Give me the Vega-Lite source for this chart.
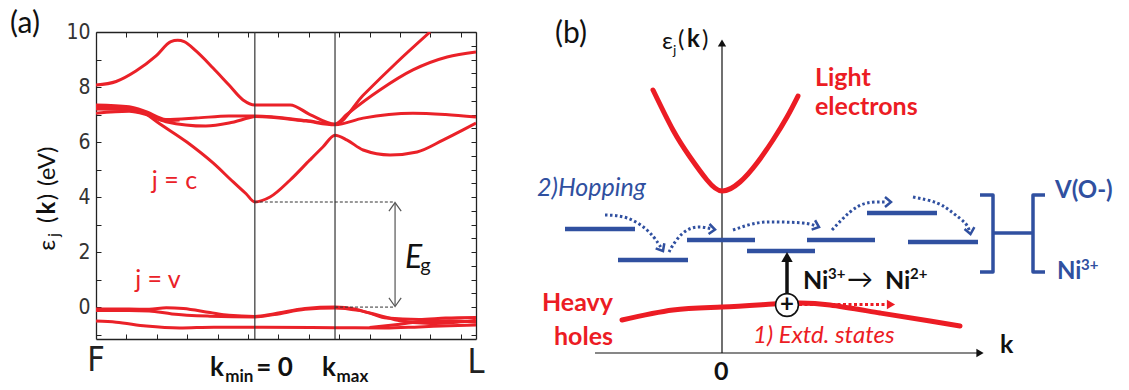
{
  "$schema": "https://vega.github.io/schema/vega-lite/v6.json",
  "background": "white",
  "padding": {"left": 10, "top": 9, "right": 5, "bottom": 5},
  "bounds": "flush",
  "spacing": 64,
  "config": {"view": {"stroke": null}, "font": "Lato"},
  "datasets": {
    "bandsA": [
      {"band": "c1", "k": 0, "e": 8.07}, {"band": "c1", "k": 0.053, "e": 8.2}, {"band": "c1", "k": 0.105, "e": 8.58}, {"band": "c1", "k": 0.158, "e": 9.13}, {"band": "c1", "k": 0.197, "e": 9.65}, {"band": "c1", "k": 0.215, "e": 9.7}, {"band": "c1", "k": 0.232, "e": 9.65}, {"band": "c1", "k": 0.263, "e": 9.31}, {"band": "c1", "k": 0.308, "e": 8.69}, {"band": "c1", "k": 0.35, "e": 8.07}, {"band": "c1", "k": 0.387, "e": 7.53}, {"band": "c1", "k": 0.418, "e": 7.35}, {"band": "c1", "k": 0.511, "e": 7.35}, {"band": "c1", "k": 0.563, "e": 7.0}, {"band": "c1", "k": 0.629, "e": 6.65}, {"band": "c1", "k": 0.703, "e": 7.7}, {"band": "c1", "k": 0.792, "e": 8.9}, {"band": "c1", "k": 0.879, "e": 10.0},
      {"band": "c2", "k": 0, "e": 7.35}, {"band": "c2", "k": 0.087, "e": 7.28}, {"band": "c2", "k": 0.132, "e": 7.1}, {"band": "c2", "k": 0.184, "e": 6.82}, {"band": "c2", "k": 0.263, "e": 6.87}, {"band": "c2", "k": 0.35, "e": 6.95}, {"band": "c2", "k": 0.418, "e": 6.95}, {"band": "c2", "k": 0.553, "e": 6.78}, {"band": "c2", "k": 0.629, "e": 6.65}, {"band": "c2", "k": 0.66, "e": 7.0}, {"band": "c2", "k": 0.747, "e": 7.89}, {"band": "c2", "k": 0.834, "e": 8.62}, {"band": "c2", "k": 0.924, "e": 9.09}, {"band": "c2", "k": 1.0, "e": 9.27},
      {"band": "c3", "k": 0, "e": 7.05}, {"band": "c3", "k": 0.087, "e": 7.12}, {"band": "c3", "k": 0.132, "e": 7.0}, {"band": "c3", "k": 0.184, "e": 6.74}, {"band": "c3", "k": 0.289, "e": 6.58}, {"band": "c3", "k": 0.35, "e": 6.69}, {"band": "c3", "k": 0.403, "e": 6.88}, {"band": "c3", "k": 0.418, "e": 6.93}, {"band": "c3", "k": 0.553, "e": 6.76}, {"band": "c3", "k": 0.629, "e": 6.63}, {"band": "c3", "k": 0.703, "e": 6.87}, {"band": "c3", "k": 0.834, "e": 7.05}, {"band": "c3", "k": 0.92, "e": 7.0}, {"band": "c3", "k": 1.0, "e": 6.91},
      {"band": "c4", "k": 0, "e": 7.2}, {"band": "c4", "k": 0.087, "e": 7.18}, {"band": "c4", "k": 0.132, "e": 7.03}, {"band": "c4", "k": 0.184, "e": 6.78}, {"band": "c4", "k": 0.22, "e": 6.8},
      {"band": "c5", "k": 0, "e": 7.28}, {"band": "c5", "k": 0.087, "e": 7.24}, {"band": "c5", "k": 0.132, "e": 7.02}, {"band": "c5", "k": 0.161, "e": 6.73}, {"band": "c5", "k": 0.239, "e": 6.0}, {"band": "c5", "k": 0.308, "e": 5.24}, {"band": "c5", "k": 0.361, "e": 4.55}, {"band": "c5", "k": 0.395, "e": 4.12}, {"band": "c5", "k": 0.418, "e": 3.82}, {"band": "c5", "k": 0.458, "e": 4.0}, {"band": "c5", "k": 0.511, "e": 4.62}, {"band": "c5", "k": 0.563, "e": 5.35}, {"band": "c5", "k": 0.597, "e": 5.82}, {"band": "c5", "k": 0.629, "e": 6.25}, {"band": "c5", "k": 0.661, "e": 6.07}, {"band": "c5", "k": 0.703, "e": 5.71}, {"band": "c5", "k": 0.774, "e": 5.53}, {"band": "c5", "k": 0.845, "e": 5.64}, {"band": "c5", "k": 0.913, "e": 6.07}, {"band": "c5", "k": 0.966, "e": 6.44}, {"band": "c5", "k": 1.0, "e": 6.69},
      {"band": "v1", "k": 0, "e": -0.07}, {"band": "v1", "k": 0.087, "e": -0.07}, {"band": "v1", "k": 0.14, "e": -0.08}, {"band": "v1", "k": 0.185, "e": -0.02}, {"band": "v1", "k": 0.23, "e": -0.05}, {"band": "v1", "k": 0.3, "e": -0.2}, {"band": "v1", "k": 0.35, "e": -0.3}, {"band": "v1", "k": 0.418, "e": -0.34}, {"band": "v1", "k": 0.47, "e": -0.24}, {"band": "v1", "k": 0.55, "e": -0.05}, {"band": "v1", "k": 0.629, "e": 0.0}, {"band": "v1", "k": 0.68, "e": -0.07}, {"band": "v1", "k": 0.72, "e": -0.22}, {"band": "v1", "k": 0.765, "e": -0.4}, {"band": "v1", "k": 0.85, "e": -0.45}, {"band": "v1", "k": 0.92, "e": -0.4}, {"band": "v1", "k": 1.0, "e": -0.38},
      {"band": "v2", "k": 0, "e": -0.12}, {"band": "v2", "k": 0.087, "e": -0.12}, {"band": "v2", "k": 0.14, "e": -0.14}, {"band": "v2", "k": 0.2, "e": -0.25}, {"band": "v2", "k": 0.3, "e": -0.33}, {"band": "v2", "k": 0.418, "e": -0.36}, {"band": "v2", "k": 0.47, "e": -0.27}, {"band": "v2", "k": 0.55, "e": -0.08}, {"band": "v2", "k": 0.629, "e": -0.03}, {"band": "v2", "k": 0.69, "e": -0.12}, {"band": "v2", "k": 0.75, "e": -0.32}, {"band": "v2", "k": 0.8, "e": -0.5}, {"band": "v2", "k": 0.88, "e": -0.6}, {"band": "v2", "k": 0.95, "e": -0.55}, {"band": "v2", "k": 1.0, "e": -0.48},
      {"band": "v3", "k": 0, "e": -0.51}, {"band": "v3", "k": 0.053, "e": -0.55}, {"band": "v3", "k": 0.132, "e": -0.69}, {"band": "v3", "k": 0.22, "e": -0.76}, {"band": "v3", "k": 0.31, "e": -0.73}, {"band": "v3", "k": 0.418, "e": -0.73}, {"band": "v3", "k": 0.629, "e": -0.75}, {"band": "v3", "k": 0.76, "e": -0.76}, {"band": "v3", "k": 0.85, "e": -0.72}, {"band": "v3", "k": 0.93, "e": -0.68}, {"band": "v3", "k": 1.0, "e": -0.65},
      {"band": "v4", "k": 0.72, "e": -0.74}, {"band": "v4", "k": 0.8, "e": -0.62}, {"band": "v4", "k": 0.86, "e": -0.52}, {"band": "v4", "k": 0.93, "e": -0.5}, {"band": "v4", "k": 1.0, "e": -0.55}
    ],
    "curvesB": [
      {"band": "light", "u": -1.38, "v": 5.26}, {"band": "light", "u": -0.98, "v": 4.46}, {"band": "light", "u": -0.64, "v": 3.92}, {"band": "light", "u": -0.3, "v": 3.46}, {"band": "light", "u": 0, "v": 3.24}, {"band": "light", "u": 0.36, "v": 3.42}, {"band": "light", "u": 0.7, "v": 3.8}, {"band": "light", "u": 1.02, "v": 4.26}, {"band": "light", "u": 1.3, "v": 4.72}, {"band": "light", "u": 1.52, "v": 5.14},
      {"band": "heavy", "u": -2.0, "v": 0.66}, {"band": "heavy", "u": -0.98, "v": 0.86}, {"band": "heavy", "u": 0, "v": 0.92}, {"band": "heavy", "u": 1.02, "v": 0.98}, {"band": "heavy", "u": 1.56, "v": 1.0}, {"band": "heavy", "u": 2.16, "v": 0.96}, {"band": "heavy", "u": 3.16, "v": 0.8}, {"band": "heavy", "u": 4.16, "v": 0.64}, {"band": "heavy", "u": 4.76, "v": 0.54}
    ],
    "levels": [
      {"u": -3.14, "u2": -1.74, "v": 2.48}, {"u": -2.08, "u2": -0.68, "v": 1.86}, {"u": -0.7, "u2": 0.66, "v": 2.26}, {"u": 0.5, "u2": 1.86, "v": 2.04}, {"u": 1.7, "u2": 3.06, "v": 2.26}, {"u": 2.9, "u2": 4.3, "v": 2.8}, {"u": 3.72, "u2": 5.12, "v": 2.22}
    ],
    "bracket": [
      {"grp": "r", "ord": 1, "u": 5.16, "v": 3.16}, {"grp": "r", "ord": 2, "u": 5.42, "v": 3.16}, {"grp": "r", "ord": 3, "u": 5.42, "v": 1.62}, {"grp": "r", "ord": 4, "u": 5.16, "v": 1.62},
      {"grp": "m", "ord": 1, "u": 5.42, "v": 2.4}, {"grp": "m", "ord": 2, "u": 6.22, "v": 2.4},
      {"grp": "l", "ord": 1, "u": 6.46, "v": 3.16}, {"grp": "l", "ord": 2, "u": 6.22, "v": 3.16}, {"grp": "l", "ord": 3, "u": 6.22, "v": 1.62}, {"grp": "l", "ord": 4, "u": 6.46, "v": 1.62}
    ],
    "hops": [
      {"hop": "a", "ord": 1, "u": -2.34, "v": 2.76}, {"hop": "a", "ord": 2, "u": -1.9, "v": 2.7}, {"hop": "a", "ord": 3, "u": -1.5, "v": 2.46}, {"hop": "a", "ord": 4, "u": -1.28, "v": 2.2}, {"hop": "a", "ord": 5, "u": -1.2, "v": 2.08},
      {"hop": "b", "ord": 1, "u": -1.06, "v": 2.02}, {"hop": "b", "ord": 2, "u": -0.98, "v": 2.16}, {"hop": "b", "ord": 3, "u": -0.78, "v": 2.4}, {"hop": "b", "ord": 4, "u": -0.5, "v": 2.52}, {"hop": "b", "ord": 5, "u": -0.2, "v": 2.48},
      {"hop": "c", "ord": 1, "u": 0.22, "v": 2.46}, {"hop": "c", "ord": 2, "u": 0.7, "v": 2.6}, {"hop": "c", "ord": 3, "u": 1.16, "v": 2.62}, {"hop": "c", "ord": 4, "u": 1.62, "v": 2.6}, {"hop": "c", "ord": 5, "u": 1.88, "v": 2.54},
      {"hop": "d", "ord": 1, "u": 2.2, "v": 2.46}, {"hop": "d", "ord": 2, "u": 2.56, "v": 2.82}, {"hop": "d", "ord": 3, "u": 2.9, "v": 3.0}, {"hop": "d", "ord": 4, "u": 3.3, "v": 3.02},
      {"hop": "e", "ord": 1, "u": 3.82, "v": 3.12}, {"hop": "e", "ord": 2, "u": 4.3, "v": 3.0}, {"hop": "e", "ord": 3, "u": 4.62, "v": 2.8}, {"hop": "e", "ord": 4, "u": 4.86, "v": 2.6}, {"hop": "e", "ord": 5, "u": 4.95, "v": 2.44}
    ],
    "hopHeads": [
      {"u": -1.18, "v": 2.04, "dir": 60}, {"u": -0.14, "v": 2.47, "dir": 5}, {"u": 1.94, "v": 2.52, "dir": 20}, {"u": 3.38, "v": 3.02, "dir": 0}, {"u": 4.97, "v": 2.38, "dir": 80}
    ]
  },
  "hconcat": [
    {
      "width": 380,
      "height": 307,
      "resolve": {"axis": {"x": "independent", "y": "independent"}},
      "layer": [
        {
          "data": {"name": "bandsA"},
          "mark": {"type": "line", "color": "#ea2128", "strokeWidth": 3, "interpolate": "monotone", "clip": true},
          "encoding": {
            "x": {"field": "k", "type": "quantitative", "scale": {"domain": [0, 1], "nice": false, "zero": false},
              "axis": {"orient": "bottom", "values": [0.08, 0.16, 0.24, 0.32, 0.4, 0.48, 0.56, 0.64, 0.72, 0.8, 0.88, 0.96], "labels": false, "tickSize": -5, "tickColor": "#222", "domainColor": "#222", "domainWidth": 1.3, "title": null, "grid": false}},
            "y": {"field": "e", "type": "quantitative", "scale": {"domain": [-1.16, 10], "nice": false, "zero": false},
              "axis": {"orient": "left", "values": [-1, -0.5, 0, 0.5, 1, 1.5, 2, 2.5, 3, 3.5, 4, 4.5, 5, 5.5, 6, 6.5, 7, 7.5, 8, 8.5, 9, 9.5, 10], "format": "d", "labelExpr": "datum.value % 2 === 0 ? datum.label : ''", "labelFont": "'Liberation Sans Narrow', 'DejaVu Sans Condensed', 'Liberation Sans', sans-serif", "labelFontSize": 21, "labelColor": "#333", "labelPadding": 11, "tickSize": -5, "tickColor": "#222", "domainColor": "#222", "domainWidth": 1.3, "title": null, "grid": false}},
            "detail": {"field": "band"}
          }
        },
        {
          "data": {"values": [{"k": 0.418}, {"k": 0.629}]},
          "mark": {"type": "rule", "color": "#333", "strokeWidth": 1.2},
          "encoding": {
            "x": {"field": "k", "type": "quantitative",
              "axis": {"orient": "top", "values": [0.08, 0.16, 0.24, 0.32, 0.4, 0.48, 0.56, 0.64, 0.72, 0.8, 0.88, 0.96], "labels": false, "tickSize": -5, "tickColor": "#222", "domainColor": "#222", "domainWidth": 1.3, "title": null, "grid": false}}
          }
        },
        {
          "data": {"values": [{"k": 0.418, "k2": 0.787, "e": 3.82}, {"k": 0.629, "k2": 0.787, "e": 0.0}]},
          "mark": {"type": "rule", "color": "#333", "strokeWidth": 1, "strokeDash": [3, 2]},
          "encoding": {
            "x": {"field": "k", "type": "quantitative", "axis": null},
            "x2": {"field": "k2"},
            "y": {"field": "e", "type": "quantitative",
              "axis": {"orient": "right", "values": [-1, -0.5, 0, 0.5, 1, 1.5, 2, 2.5, 3, 3.5, 4, 4.5, 5, 5.5, 6, 6.5, 7, 7.5, 8, 8.5, 9, 9.5, 10], "labels": false, "tickSize": -5, "tickColor": "#222", "domainColor": "#222", "domainWidth": 1.3, "title": null, "grid": false}}
          }
        },
        {
          "data": {"values": [{"k": 0.787, "e": 0.04, "e2": 3.78}]},
          "mark": {"type": "rule", "color": "#555", "strokeWidth": 1.2},
          "encoding": {
            "x": {"field": "k", "type": "quantitative", "axis": null},
            "y": {"field": "e", "type": "quantitative", "axis": null},
            "y2": {"field": "e2"}
          }
        },
        {
          "data": {"values": [{"k": 0.787, "e": 3.8, "dir": 0}, {"k": 0.787, "e": 0.02, "dir": 180}]},
          "mark": {"type": "point", "shape": "M -1 1.4 L 0 0 L 1 1.4", "size": 150, "filled": false, "stroke": "#555", "strokeWidth": 1.2, "opacity": 1},
          "encoding": {
            "x": {"field": "k", "type": "quantitative", "axis": null},
            "y": {"field": "e", "type": "quantitative", "axis": null},
            "angle": {"field": "dir", "type": "quantitative", "scale": null}
          }
        },
        {
          "data": {"values": [{"t": "(a)", "k": -0.226, "e": 10.29}]},
          "mark": {"type": "text", "align": "left", "baseline": "middle", "fontSize": 30, "color": "#111"},
          "encoding": {"x": {"field": "k", "type": "quantitative", "axis": null}, "y": {"field": "e", "type": "quantitative", "axis": null}, "text": {"field": "t"}}
        },
        {
          "data": {"values": [{"t": "ε", "k": -0.126, "e": 2.25}, {"t": "(", "k": -0.126, "e": 3.17}, {"t": ")", "k": -0.126, "e": 4.0}, {"t": "(eV)", "k": -0.126, "e": 5.12}]},
          "mark": {"type": "text", "align": "center", "baseline": "middle", "fontSize": 24, "angle": 270, "color": "#111"},
          "encoding": {"x": {"field": "k", "type": "quantitative", "axis": null}, "y": {"field": "e", "type": "quantitative", "axis": null}, "text": {"field": "t"}}
        },
        {
          "data": {"values": [{"t": "k", "k": -0.126, "e": 3.6}]},
          "mark": {"type": "text", "align": "center", "baseline": "middle", "fontSize": 24, "fontWeight": "bold", "angle": 270, "color": "#111"},
          "encoding": {"x": {"field": "k", "type": "quantitative", "axis": null}, "y": {"field": "e", "type": "quantitative", "axis": null}, "text": {"field": "t"}}
        },
        {
          "data": {"values": [{"t": "j", "k": -0.11, "e": 2.62}]},
          "mark": {"type": "text", "align": "center", "baseline": "middle", "fontSize": 15, "angle": 270, "color": "#111"},
          "encoding": {"x": {"field": "k", "type": "quantitative", "axis": null}, "y": {"field": "e", "type": "quantitative", "axis": null}, "text": {"field": "t"}}
        },
        {
          "data": {"values": [{"t": "j = c", "k": 0.147, "e": 4.58}, {"t": "j = v", "k": 0.103, "e": 0.98}]},
          "mark": {"type": "text", "align": "left", "baseline": "middle", "fontSize": 25, "color": "#ea2128"},
          "encoding": {"x": {"field": "k", "type": "quantitative", "axis": null}, "y": {"field": "e", "type": "quantitative", "axis": null}, "text": {"field": "t"}}
        },
        {
          "data": {"values": [{"t": "E", "k": 0.813, "e": 1.78}]},
          "mark": {"type": "text", "align": "left", "baseline": "middle", "fontSize": 32, "fontStyle": "italic", "color": "#111"},
          "encoding": {"x": {"field": "k", "type": "quantitative", "axis": null}, "y": {"field": "e", "type": "quantitative", "axis": null}, "text": {"field": "t"}}
        },
        {
          "data": {"values": [{"t": "g", "k": 0.853, "e": 1.5}]},
          "mark": {"type": "text", "align": "left", "baseline": "middle", "fontSize": 20, "color": "#111"},
          "encoding": {"x": {"field": "k", "type": "quantitative", "axis": null}, "y": {"field": "e", "type": "quantitative", "axis": null}, "text": {"field": "t"}}
        },
        {
          "data": {"values": [{"t": "F", "k": 0, "e": -1.96}, {"t": "L", "k": 1, "e": -2.04}]},
          "mark": {"type": "text", "align": "center", "baseline": "middle", "fontSize": 34, "font": "'Liberation Sans Narrow', 'DejaVu Sans Condensed', 'Liberation Sans', sans-serif", "color": "#222"},
          "encoding": {"x": {"field": "k", "type": "quantitative", "axis": null}, "y": {"field": "e", "type": "quantitative", "axis": null}, "text": {"field": "t"}}
        },
        {
          "data": {"values": [{"t": "k", "k": 0.3, "e": -2.22}, {"t": "= 0", "k": 0.422, "e": -2.22}, {"t": "k", "k": 0.595, "e": -2.22}]},
          "mark": {"type": "text", "align": "left", "baseline": "middle", "fontSize": 26, "fontWeight": "bold", "color": "#111"},
          "encoding": {"x": {"field": "k", "type": "quantitative", "axis": null}, "y": {"field": "e", "type": "quantitative", "axis": null}, "text": {"field": "t"}}
        },
        {
          "data": {"values": [{"t": "min", "k": 0.34, "e": -2.55}, {"t": "max", "k": 0.633, "e": -2.55}]},
          "mark": {"type": "text", "align": "left", "baseline": "middle", "fontSize": 17, "fontWeight": "bold", "color": "#111"},
          "encoding": {"x": {"field": "k", "type": "quantitative", "axis": null}, "y": {"field": "e", "type": "quantitative", "axis": null}, "text": {"field": "t"}}
        }
      ]
    },
    {
      "width": 589,
      "height": 358,
      "encoding": {
        "x": {"field": "u", "type": "quantitative", "scale": {"domain": [-3.64, 8.14], "nice": false, "zero": false}, "axis": null},
        "y": {"field": "v", "type": "quantitative", "scale": {"domain": [-0.74, 6.42], "nice": false, "zero": false}, "axis": null}
      },
      "layer": [
        {
          "data": {"values": [{"u": 0, "v": 0, "u2": 0, "v2": 6.15}, {"u": -2.54, "v": 0, "u2": 5.1, "v2": 0}]},
          "mark": {"type": "rule", "color": "#111", "strokeWidth": 1.2},
          "encoding": {"x2": {"field": "u2"}, "y2": {"field": "v2"}}
        },
        {
          "data": {"values": [{"u": 0, "v": 6.2, "dir": 0}, {"u": 5.16, "v": 0, "dir": 90}]},
          "mark": {"type": "point", "shape": "triangle-up", "filled": true, "color": "#111", "size": 70, "opacity": 1},
          "encoding": {"angle": {"field": "dir", "type": "quantitative", "scale": null}}
        },
        {
          "data": {"name": "levels"},
          "mark": {"type": "rule", "color": "#3050a0", "strokeWidth": 4.5},
          "encoding": {"x2": {"field": "u2"}}
        },
        {
          "data": {"name": "bracket"},
          "mark": {"type": "line", "color": "#3050a0", "strokeWidth": 3.5, "strokeJoin": "round"},
          "encoding": {"detail": {"field": "grp"}, "order": {"field": "ord"}}
        },
        {
          "data": {"name": "hops"},
          "mark": {"type": "line", "color": "#3050a0", "strokeWidth": 3, "strokeDash": [2.5, 2.5], "interpolate": "natural"},
          "encoding": {"detail": {"field": "hop"}, "order": {"field": "ord"}}
        },
        {
          "data": {"name": "hopHeads"},
          "mark": {"type": "point", "shape": "M -1.2 -1 L 0 0 L -1.2 1", "filled": false, "stroke": "#3050a0", "strokeWidth": 2.5, "size": 100, "opacity": 1},
          "encoding": {"angle": {"field": "dir", "type": "quantitative", "scale": null}}
        },
        {
          "data": {"name": "curvesB"},
          "mark": {"type": "line", "color": "#ec1c24", "strokeWidth": 5, "interpolate": "natural", "strokeCap": "round"},
          "encoding": {"detail": {"field": "band"}}
        },
        {
          "data": {"values": [{"u": 1.3, "v": 1.08, "v2": 1.86}]},
          "mark": {"type": "rule", "color": "#111", "strokeWidth": 3.5},
          "encoding": {"y2": {"field": "v2"}}
        },
        {
          "data": {"values": [{"u": 1.3, "v": 1.92}]},
          "mark": {"type": "point", "shape": "triangle-up", "filled": true, "color": "#111", "size": 130, "opacity": 1}
        },
        {
          "data": {"values": [{"u": 1.54, "u2": 3.3, "v": 0.97}]},
          "mark": {"type": "rule", "color": "#ec1c24", "strokeWidth": 3, "strokeDash": [3, 2.5]},
          "encoding": {"x2": {"field": "u2"}}
        },
        {
          "data": {"values": [{"u": 3.38, "v": 0.97}]},
          "mark": {"type": "point", "shape": "triangle-right", "filled": true, "color": "#ec1c24", "size": 90, "opacity": 1}
        },
        {
          "data": {"values": [{"u": 1.3, "v": 0.96}]},
          "mark": {"type": "point", "shape": "circle", "filled": true, "fill": "white", "stroke": "#111", "strokeWidth": 1.6, "size": 520, "opacity": 1}
        },
        {
          "data": {"values": [{"t": "+", "u": 1.3, "v": 0.96}]},
          "mark": {"type": "text", "align": "center", "baseline": "middle", "fontSize": 24, "fontWeight": "bold", "color": "#111"},
          "encoding": {"text": {"field": "t"}}
        },
        {
          "data": {"values": [{"t": "Light", "u": 1.86, "v": 5.5}, {"t": "electrons", "u": 1.86, "v": 4.92}]},
          "mark": {"type": "text", "align": "left", "baseline": "middle", "fontSize": 25, "fontWeight": "bold", "color": "#ec1c24"},
          "encoding": {"text": {"field": "t"}}
        },
        {
          "data": {"values": [{"t": "Heavy", "u": -2.18, "v": 1.0}, {"t": "holes", "u": -2.18, "v": 0.32}]},
          "mark": {"type": "text", "align": "right", "baseline": "middle", "fontSize": 25, "fontWeight": "bold", "color": "#ec1c24"},
          "encoding": {"text": {"field": "t"}}
        },
        {
          "data": {"values": [{"t": "1) Extd. states", "u": 0.62, "v": 0.34}]},
          "mark": {"type": "text", "align": "left", "baseline": "middle", "fontSize": 24, "fontStyle": "italic", "color": "#ec1c24"},
          "encoding": {"text": {"field": "t"}}
        },
        {
          "data": {"values": [{"t": "2)Hopping", "u": -3.7, "v": 3.3}]},
          "mark": {"type": "text", "align": "left", "baseline": "middle", "fontSize": 25, "fontStyle": "italic", "color": "#3050a0"},
          "encoding": {"text": {"field": "t"}}
        },
        {
          "data": {"values": [{"t": "V(O-)", "u": 6.66, "v": 3.24}, {"t": "Ni", "u": 6.7, "v": 1.62}]},
          "mark": {"type": "text", "align": "left", "baseline": "middle", "fontSize": 24, "fontWeight": "bold", "color": "#3050a0"},
          "encoding": {"text": {"field": "t"}}
        },
        {
          "data": {"values": [{"t": "3+", "u": 7.18, "v": 1.76}]},
          "mark": {"type": "text", "align": "left", "baseline": "middle", "fontSize": 15, "fontWeight": "bold", "color": "#3050a0"},
          "encoding": {"text": {"field": "t"}}
        },
        {
          "data": {"values": [{"t": "Ni", "u": 1.62, "v": 1.44}, {"t": "Ni", "u": 3.26, "v": 1.44}, {"t": "k", "u": 5.56, "v": 0.16}, {"t": "0", "u": -0.16, "v": -0.38}]},
          "mark": {"type": "text", "align": "left", "baseline": "middle", "fontSize": 25, "fontWeight": "bold", "color": "#111"},
          "encoding": {"text": {"field": "t"}}
        },
        {
          "data": {"values": [{"t": "3+", "u": 2.12, "v": 1.58}, {"t": "2+", "u": 3.76, "v": 1.58}]},
          "mark": {"type": "text", "align": "left", "baseline": "middle", "fontSize": 15, "fontWeight": "bold", "color": "#111"},
          "encoding": {"text": {"field": "t"}}
        },
        {
          "data": {"values": [{"t": "→", "u": 2.5, "v": 1.46}]},
          "mark": {"type": "text", "align": "left", "baseline": "middle", "fontSize": 26, "color": "#111"},
          "encoding": {"text": {"field": "t"}}
        },
        {
          "data": {"values": [{"t": "(b)", "u": -3.34, "v": 6.38}]},
          "mark": {"type": "text", "align": "left", "baseline": "middle", "fontSize": 30, "color": "#111"},
          "encoding": {"text": {"field": "t"}}
        },
        {
          "data": {"values": [{"t": "ε", "u": -1.2, "v": 6.22}, {"t": "(", "u": -0.88, "v": 6.26}, {"t": ")", "u": -0.4, "v": 6.26}]},
          "mark": {"type": "text", "align": "left", "baseline": "middle", "fontSize": 24, "color": "#111"},
          "encoding": {"text": {"field": "t"}}
        },
        {
          "data": {"values": [{"t": "k", "u": -0.7, "v": 6.26}]},
          "mark": {"type": "text", "align": "left", "baseline": "middle", "fontSize": 24, "fontWeight": "bold", "color": "#111"},
          "encoding": {"text": {"field": "t"}}
        },
        {
          "data": {"values": [{"t": "j", "u": -0.98, "v": 6.04}]},
          "mark": {"type": "text", "align": "left", "baseline": "middle", "fontSize": 14, "color": "#111"},
          "encoding": {"text": {"field": "t"}}
        }
      ]
    }
  ]
}
